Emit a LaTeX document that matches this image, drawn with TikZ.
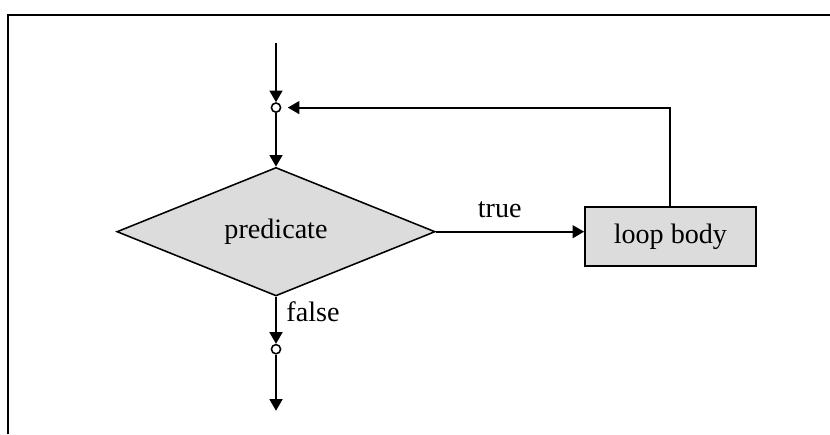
\documentclass[tikz,border=0pt]{standalone}
\usepackage{fontspec}
\setmainfont{Liberation Serif}
\usetikzlibrary{shapes.geometric,arrows.meta}
\definecolor{boxgray}{RGB}{220,220,220}

\begin{document}
\begin{tikzpicture}[
		font=\fontsize{20}{24}\selectfont,
		flow/.style={-{Triangle[length=0.29cm,width=0.32cm]}, line width=1.4pt},
		joint/.style={circle, draw, fill=white, line width=1.1pt, inner sep=0pt, minimum size=0.23cm},
		decision/.style={diamond, draw, fill=boxgray, line width=1.1pt, inner sep=0pt, minimum width=7.96cm, minimum height=2.88cm},
		process/.style={rectangle, draw, fill=boxgray, line width=1.2pt, minimum width=4.27cm, minimum height=1.46cm}
	]
		
		\useasboundingbox (0,0) rectangle (20.75,10.85);
		
		% the frame, cut at right and bottom
		\draw[line width=2pt] (0.2,0) -- (0.2,10.475) -- (20.75,10.475);
		
		\coordinate (In) at (6.9,9.775);
		\coordinate (Out) at (6.9,0.58);
		
		\node[joint] (J1) at (6.9,8.16) {};
		\node[decision] (pred) at (6.9,5.0575) {predicate};
		\node[process] (body) at (16.76,4.9375) {loop body};
		\node[joint] (J2) at (6.9,2.12) {};
		
		\draw[flow] (In) -- (J1);
		\draw[flow] (J1) -- (pred);
		\draw[flow] (pred.east) -- node[pos=0.43, above=0.2cm] {true} (pred.east -| body.west);
		\draw[flow, shorten >=0.16cm] (body.north) -- (body.north |- J1) -- (J1);
		\draw[flow] (pred.south) -- node[pos=0.32, right=0.12cm] {false} (J2);
		\draw[flow] (J2) -- (Out);
		
	\end{tikzpicture}
\end{document}
